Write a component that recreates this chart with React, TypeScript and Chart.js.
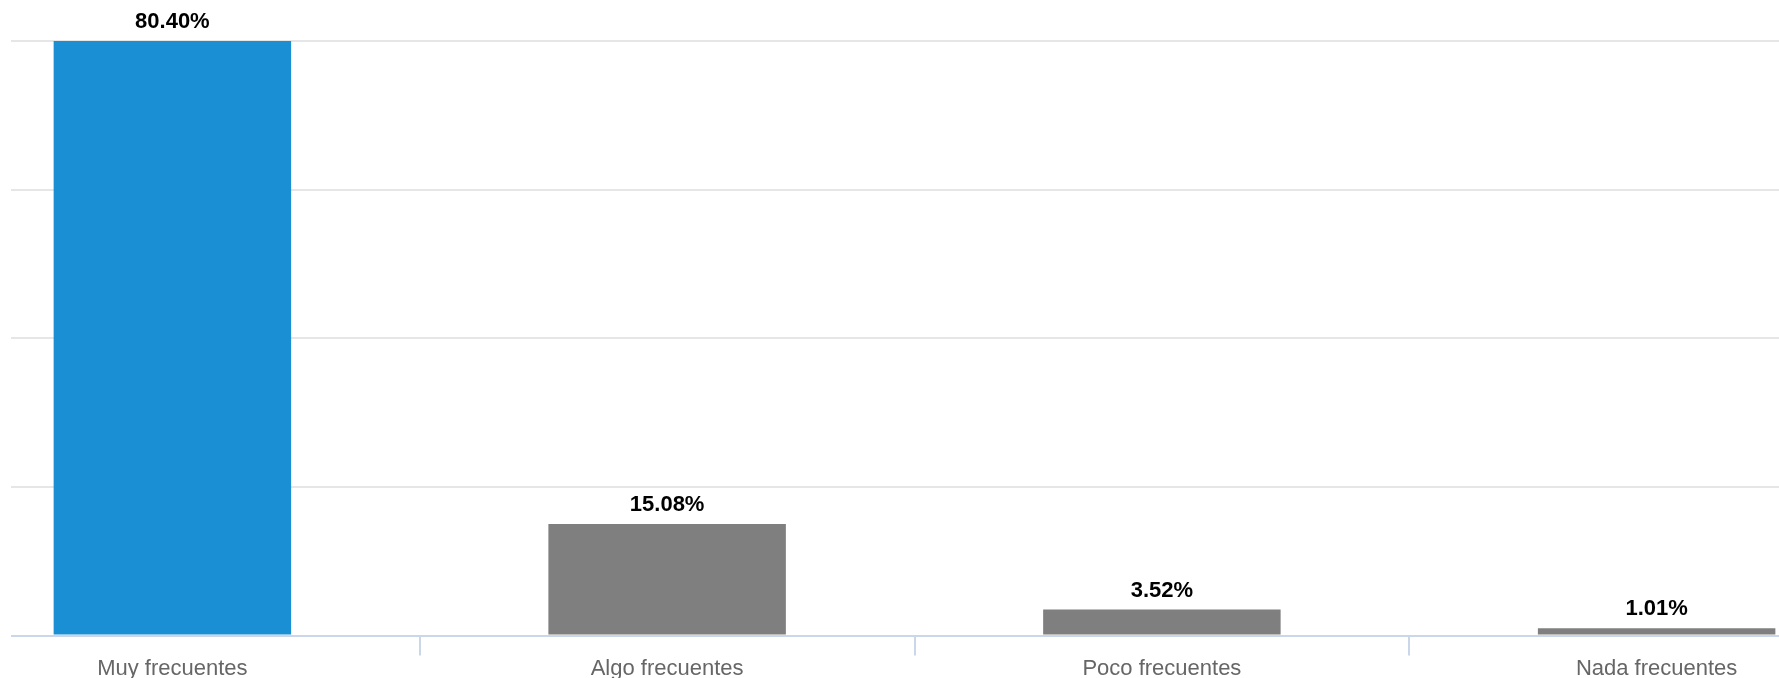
import React, { useEffect, useRef } from "react";
import { Chart, registerables } from "chart.js";

Chart.register(...registerables);

const categories = ["Muy frecuentes", "Algo frecuentes", "Poco frecuentes", "Nada frecuentes"];
const values = [80.4, 15.08, 3.52, 1.01];
const barColors = ["#1a8fd4", "#7f7f7f", "#7f7f7f", "#7f7f7f"];
const yMax = 80.4;
const yTickCount = 5;

const FONT = "'Liberation Sans', Arial, Helvetica, sans-serif";

const valueLabels = {
  id: "valueLabels",
  afterDatasetsDraw(chart: any) {
    const ctx = chart.ctx;
    const meta = chart.getDatasetMeta(0);
    ctx.save();
    ctx.font = `bold 22px ${FONT}`;
    ctx.fillStyle = "#000000";
    ctx.textAlign = "center";
    ctx.textBaseline = "alphabetic";
    meta.data.forEach((bar: any, i: number) => {
      ctx.fillText(values[i].toFixed(2) + "%", bar.x, bar.y - 13);
    });
    ctx.restore();
  },
};

export default function App() {
  const ref = useRef<HTMLCanvasElement | null>(null);

  useEffect(() => {
    if (!ref.current) return;
    const chart = new Chart(ref.current, {
      type: "bar",
      data: {
        labels: categories,
        datasets: [
          {
            data: values,
            backgroundColor: barColors,
            borderWidth: 0,
            categoryPercentage: 1,
            barPercentage: 0.48,
          },
        ],
      },
      options: {
        responsive: false,
        animation: false,
        devicePixelRatio: 1,
        layout: { padding: { top: 41, left: 0, right: 0, bottom: 0 } },
        plugins: {
          legend: { display: false },
          tooltip: { enabled: false },
        },
        scales: {
          x: {
            offset: true,
            grid: {
              offset: true,
              drawOnChartArea: false,
              drawTicks: true,
              tickLength: 20,
              color: "#ccd6eb",
              lineWidth: 2,
            },
            border: { display: true, color: "#ccd6eb", width: 2 },
            ticks: {
              color: "#666666",
              font: { size: 22, family: FONT },
              padding: 0,
              maxRotation: 0,
              autoSkip: false,
            },
          },
          y: {
            min: 0,
            max: yMax,
            grid: {
              color: "#e6e6e6",
              lineWidth: 2,
              drawTicks: false,
            },
            border: { display: false },
            ticks: { display: false, count: yTickCount },
          },
        },
      },
      plugins: [valueLabels],
    });
    return () => chart.destroy();
  }, []);

  return (
    <div
      style={{
        position: "absolute",
        left: 11,
        top: 0,
        width: 1768,
        height: 678,
        overflow: "hidden",
        background: "#ffffff",
      }}
    >
      <canvas
        ref={ref}
        width={1979}
        height={682}
        style={{ position: "absolute", left: -86, top: 0, display: "block" }}
      />
    </div>
  );
}
